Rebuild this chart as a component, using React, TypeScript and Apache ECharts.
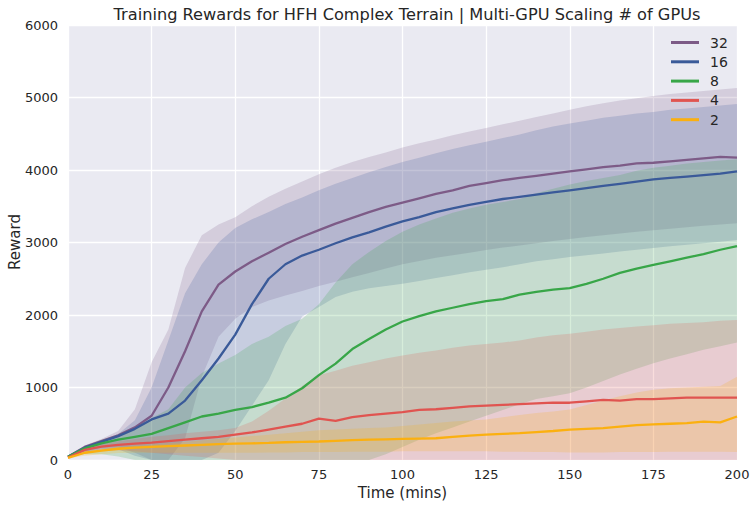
import React, { useEffect, useRef } from "react";
import * as echarts from "echarts";

const minutes = [0,5,10,15,20,25,30,35,40,45,50,55,60,65,70,75,80,85,90,95,100,105,110,115,120,125,130,135,140,145,150,155,160,165,170,175,180,185,190,195,200];

const mean32 = [45,180,260,340,450,610,1000,1500,2050,2420,2600,2740,2860,2980,3080,3170,3260,3340,3420,3490,3550,3610,3670,3720,3780,3820,3860,3890,3920,3950,3980,4010,4040,4060,4090,4100,4120,4140,4160,4180,4170];
const upper32 = [60,200,290,400,700,1350,1800,2650,3100,3250,3350,3500,3630,3740,3840,3940,4030,4110,4180,4240,4310,4370,4420,4480,4530,4580,4630,4680,4730,4780,4830,4880,4920,4960,4990,5020,5050,5070,5090,5110,5130];
const lower32 = [40,120,170,180,100,0,0,300,1150,1700,1950,2110,2200,2270,2330,2400,2460,2520,2580,2640,2700,2745,2790,2825,2860,2895,2930,2960,2990,3020,3050,3075,3100,3125,3150,3170,3190,3210,3230,3250,3265];

const mean16 = [45,170,250,330,430,560,640,820,1100,1400,1730,2150,2500,2700,2820,2900,2990,3070,3140,3220,3290,3350,3420,3470,3520,3560,3600,3630,3660,3690,3720,3750,3780,3810,3840,3870,3890,3910,3930,3950,3980];
const upper16 = [55,190,270,360,550,1000,1650,2300,2700,3000,3200,3320,3420,3530,3620,3720,3810,3890,3970,4040,4110,4170,4230,4290,4340,4390,4440,4490,4550,4600,4640,4680,4720,4750,4780,4800,4830,4850,4870,4890,4910];
const lower16 = [40,110,150,150,60,0,0,0,0,100,400,750,1100,1600,1980,2110,2250,2320,2370,2400,2430,2470,2510,2550,2590,2625,2660,2700,2740,2770,2800,2825,2850,2875,2900,2925,2950,2970,2990,3010,3035];

const mean8 = [45,160,230,280,320,360,440,520,600,640,690,730,790,860,990,1170,1330,1530,1670,1800,1910,1985,2050,2100,2150,2190,2220,2280,2320,2350,2370,2430,2500,2580,2640,2690,2740,2790,2840,2900,2950];
const upper8 = [50,190,280,350,450,580,700,1000,1200,1330,1450,1600,1700,1850,1950,2150,2450,2700,2870,3020,3150,3250,3330,3410,3470,3520,3560,3600,3680,3740,3800,3850,3890,3930,3990,4030,4060,4090,4110,4130,4150];
const lower8 = [40,80,80,50,0,0,0,0,0,0,0,0,0,0,0,0,0,0,0,80,180,280,370,450,530,610,690,770,840,880,920,1000,1090,1180,1260,1335,1400,1460,1520,1570,1620];

const mean4 = [35,140,185,210,225,240,260,280,300,320,350,380,420,460,500,570,540,590,620,640,660,690,700,720,740,750,760,770,780,790,790,810,830,820,840,840,850,860,860,860,860];
const upper4 = [50,150,220,260,290,320,340,370,390,410,440,530,680,850,1020,1170,1230,1300,1350,1400,1440,1480,1510,1550,1580,1600,1620,1650,1690,1720,1740,1770,1800,1820,1840,1860,1880,1890,1900,1920,1930];
const lower4 = [30,90,120,130,120,100,80,60,40,20,0,0,0,0,0,0,0,0,0,0,0,0,0,0,0,0,0,0,0,0,0,0,0,0,0,0,0,0,0,0,0];

const mean2 = [30,100,130,155,170,180,190,200,210,220,225,230,235,245,250,255,265,275,280,285,290,295,300,320,335,350,360,370,385,400,420,430,440,460,480,490,500,510,530,520,600];
const upper2 = [45,110,150,175,195,210,230,250,270,290,310,330,350,370,390,410,420,430,440,450,470,490,510,530,545,560,590,620,650,670,695,760,820,880,930,970,990,1000,1010,1020,1150];
const lower2 = [25,60,80,95,100,100,100,100,100,100,100,100,105,105,110,110,110,115,115,115,120,120,120,120,120,120,115,115,110,110,105,105,105,110,110,110,115,115,115,115,110];

const groups = [
  { name: "32", color: "#7d5b87", mean: mean32, upper: upper32, lower: lower32 },
  { name: "16", color: "#3a5a99", mean: mean16, upper: upper16, lower: lower16 },
  { name: "8", color: "#38a648", mean: mean8, upper: upper8, lower: lower8 },
  { name: "4", color: "#e05450", mean: mean4, upper: upper4, lower: lower4 },
  { name: "2", color: "#fbb010", mean: mean2, upper: upper2, lower: lower2 },
];

const FONT = "DejaVu Sans";
const TXT = "#262626";

export default function App() {
  const ref = useRef<HTMLDivElement>(null);
  useEffect(() => {
    if (!ref.current) return;
    const chart = echarts.init(ref.current, undefined, { renderer: "svg" });
    const series: any[] = [];
    groups.forEach((g) => {
      series.push({
        name: "band" + g.name,
        type: "custom",
        silent: true,
        z: 1,
        data: minutes.map((m, i) => [m, g.lower[i], g.upper[i]]),
        encode: { x: 0, y: [1, 2] },
        renderItem: (params: any, api: any) => {
          if (params.dataIndex !== 0) return null;
          const top = minutes.map((m, i) => api.coord([m, g.upper[i]]));
          const bottom = minutes.map((m, i) => api.coord([m, g.lower[i]])).reverse();
          return {
            type: "polygon",
            shape: { points: top.concat(bottom) },
            style: { fill: g.color, opacity: 0.2 },
          };
        },
      });
    });
    groups.forEach((g) => {
      series.push({
        name: g.name,
        type: "line",
        data: minutes.map((m, i) => [m, g.mean[i]]),
        symbol: "none",
        itemStyle: { color: g.color },
        lineStyle: { color: g.color, width: 2.3 },
        z: 3,
      });
    });
    chart.setOption({
      animation: false,
      backgroundColor: "#ffffff",
      title: {
        text: "Training Rewards for HFH Complex Terrain | Multi-GPU Scaling # of GPUs",
        left: 402,
        top: 1,
        textAlign: "center",
        textStyle: { fontFamily: FONT, fontSize: 16.2, fontWeight: "normal", color: TXT },
      },
      graphic: [
        {
          type: "text",
          x: 15,
          y: 242,
          rotation: Math.PI / 2,
          style: {
            text: "Reward",
            fontFamily: FONT,
            fontSize: 15,
            fill: TXT,
            align: "center",
            verticalAlign: "middle",
          },
        },
      ],
      legend: {
        data: groups.map((g) => g.name),
        orient: "vertical",
        left: 671,
        top: 35,
        padding: 0,
        itemWidth: 28,
        itemHeight: 3,
        itemGap: 4.3,
        icon: "rect",
        textStyle: { fontFamily: FONT, fontSize: 14, color: TXT, lineHeight: 15, padding: [0, 0, 0, 6] },
      },
      grid: {
        left: 68,
        right: 19,
        top: 25,
        bottom: 47,
        show: true,
        backgroundColor: "#EAEAF2",
        borderWidth: 0,
        outerBoundsMode: "none",
        containLabel: false,
      },
      xAxis: {
        type: "value",
        min: 0,
        max: 200,
        interval: 25,
        name: "Time (mins)",
        nameLocation: "middle",
        nameGap: 25,
        nameTextStyle: { fontFamily: FONT, fontSize: 15, color: TXT },
        axisLine: { show: false },
        axisTick: { show: false },
        axisLabel: { fontFamily: FONT, fontSize: 13, color: TXT, margin: 8, formatter: (v: number) => String(v) },
        splitLine: { show: true, lineStyle: { color: "#ffffff", width: 1.3 } },
      },
      yAxis: {
        type: "value",
        min: 0,
        max: 6000,
        interval: 1000,
        axisLine: { show: false },
        axisTick: { show: false },
        axisLabel: { fontFamily: FONT, fontSize: 13, color: TXT, margin: 10, formatter: (v: number) => String(v) },
        splitLine: { show: true, lineStyle: { color: "#ffffff", width: 1.3 } },
      },
      series,
    });
    return () => chart.dispose();
  }, []);
  return <div ref={ref} style={{ width: 756, height: 507, position: "absolute", left: 0, top: 0 }} />;
}
